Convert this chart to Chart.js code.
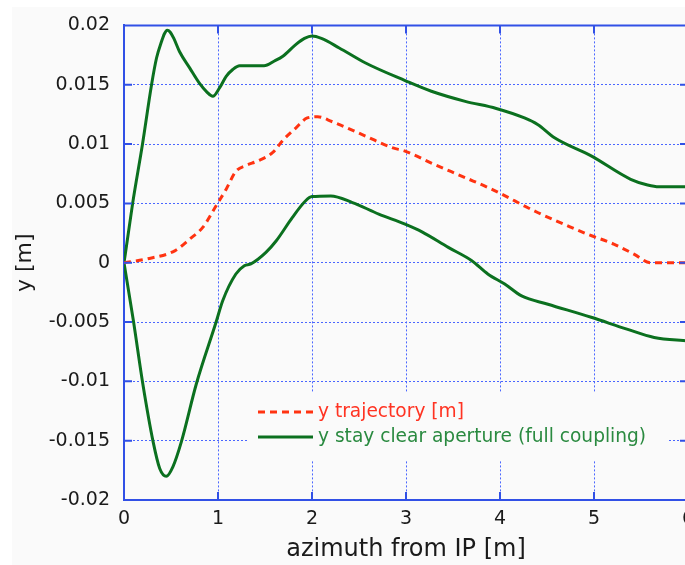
<!DOCTYPE html>
<html>
<head>
<meta charset="utf-8">
<title>y trajectory and stay clear aperture</title>
<script src="https://cdn.jsdelivr.net/npm/chart.js@4/dist/chart.umd.min.js"></script>
<style>
  html, body { margin: 0; padding: 0; background: #fff; overflow: hidden; }
  #wrap { width: 700px; height: 565px; }
</style>
</head>
<body>
<div id="wrap"><canvas id="apertureChart" width="700" height="565"></canvas></div>
<script>
// azimuth from IP [m] -> y trajectory [m]
var trajX = [0, 0.27, 0.54, 0.70, 0.84, 0.98, 1.087, 1.19, 1.30, 1.42, 1.58, 1.70, 1.83, 1.95, 2.06, 2.21, 2.57, 2.85, 2.99, 3.27, 3.63, 3.91, 4.40, 4.68, 4.93, 5.21, 5.43, 5.60, 6.0];
var trajY = [0, 0.00036, 0.001, 0.002, 0.003, 0.0048, 0.0062, 0.0077, 0.0082, 0.00857, 0.00927, 0.0104, 0.01137, 0.0122, 0.0123, 0.0119, 0.01067, 0.0097, 0.0094, 0.0084, 0.00717, 0.0062, 0.00423, 0.00325, 0.0024, 0.00157, 0.0007, 0.0, 0.0];

// stay clear aperture, upper edge
var upperX = [0, 0.014, 0.092, 0.197, 0.293, 0.346, 0.40, 0.43, 0.46, 0.49, 0.53, 0.59, 0.70, 0.80, 0.88, 0.945, 1.016, 1.087, 1.157, 1.23, 1.28, 1.49, 1.60, 1.69, 1.83, 1.92, 2.0, 2.1, 2.29, 2.57, 2.99, 3.27, 3.63, 3.96, 4.26, 4.40, 4.58, 4.97, 5.39, 5.57, 5.69, 6.0];
var upperY = [0, 0.00073, 0.005, 0.01, 0.015, 0.01725, 0.01866, 0.0193, 0.0196, 0.01945, 0.0189, 0.0178, 0.0164, 0.01515, 0.0144, 0.01403, 0.01473, 0.0157, 0.01628, 0.0166, 0.0166, 0.0166, 0.0170, 0.0174, 0.0184, 0.0189, 0.0191, 0.0189, 0.0181, 0.01683, 0.01535, 0.01445, 0.0136, 0.0130, 0.0122, 0.01165, 0.01053, 0.0090, 0.00703, 0.00655, 0.0064, 0.0064];

// stay clear aperture, lower edge
var lowerX = [0, 0.1, 0.2, 0.31, 0.38, 0.45, 0.52, 0.61, 0.77, 0.98, 1.05, 1.19, 1.28, 1.35, 1.51, 1.62, 1.79, 1.93, 2.0, 2.2, 2.43, 2.71, 2.99, 3.17, 3.45, 3.70, 3.87, 4.05, 4.23, 4.51, 4.97, 5.35, 5.64, 6.0];
var lowerY = [0, -0.0049, -0.0102, -0.0151, -0.01734, -0.0180, -0.0172, -0.0151, -0.0102, -0.0050, -0.0032, -0.00095, -0.00025, -0.0001, 0.00087, 0.00185, 0.0038, 0.0052, 0.00557, 0.00563, 0.00507, 0.0041, 0.00325, 0.0026, 0.00129, 0.00017, -0.00095, -0.0018, -0.0028, -0.0035, -0.0046, -0.0056, -0.0063, -0.0066];

var trajLabel = 'y trajectory [m]';
var apertureLabel = 'y stay clear aperture (full coupling)';

var RED = '#ff3311';
var GREEN = '#0b701f';
var AXIS = '#3150e6';
var GRID = '#4a66ff';
var FONT = '"DejaVu Sans", sans-serif';

function pts(xs, ys) {
    return xs.map(function (x, i) { return { x: x, y: ys[i] }; });
}

// фон сторінки і області графіка
var backdrop = {
    id: 'backdrop',
    beforeDraw: function (chart) {
        var ctx = chart.ctx;
        ctx.save();
        ctx.fillStyle = '#ffffff';
        ctx.fillRect(0, 0, chart.width, chart.height);
        ctx.fillStyle = '#fafafa';
        ctx.fillRect(12, 7, chart.width - 12, chart.height - 7);
        ctx.restore();
    }
};

// рамка зверху/справа і внутрішні риски на всіх чотирьох сторонах
var frame = {
    id: 'frame',
    afterDatasetsDraw: function (chart) {
        var ctx = chart.ctx, a = chart.chartArea;
        var sx = chart.scales.x, sy = chart.scales.y;
        var len = 8;
        ctx.save();
        ctx.strokeStyle = AXIS;
        ctx.lineWidth = 2;
        ctx.beginPath();
        ctx.moveTo(a.left, a.top); ctx.lineTo(a.right, a.top);
        ctx.moveTo(a.right, a.top); ctx.lineTo(a.right, a.bottom);
        sx.ticks.forEach(function (t) {
            var px = sx.getPixelForValue(t.value);
            ctx.moveTo(px, a.bottom); ctx.lineTo(px, a.bottom - len);
            ctx.moveTo(px, a.top); ctx.lineTo(px, a.top + len);
        });
        sy.ticks.forEach(function (t) {
            var py = sy.getPixelForValue(t.value);
            ctx.moveTo(a.left, py); ctx.lineTo(a.left + len, py);
            ctx.moveTo(a.right, py); ctx.lineTo(a.right - len, py);
        });
        ctx.stroke();
        ctx.restore();
    }
};

// легенда всередині області графіка
var insideLegend = {
    id: 'insideLegend',
    beforeDatasetsDraw: function (chart) {
        var ctx = chart.ctx, a = chart.chartArea;
        ctx.save();
        ctx.fillStyle = '#fafafa';
        ctx.fillRect(a.left + 124, 393, 419, 67);
        ctx.restore();
    },
    afterDatasetsDraw: function (chart) {
        var ctx = chart.ctx, a = chart.chartArea;
        var items = chart.data.datasets.filter(function (d) { return d.label; });
        var x0 = a.left + 134, x1 = a.left + 189;
        ctx.save();
        ctx.font = '18.6px ' + FONT;
        ctx.textBaseline = 'middle';
        ctx.textAlign = 'left';
        items.forEach(function (d, i) {
            var y = 412 + i * 25;
            ctx.beginPath();
            ctx.strokeStyle = d.borderColor;
            ctx.lineWidth = 3;
            ctx.setLineDash(d.borderDash || []);
            ctx.moveTo(x0, y); ctx.lineTo(x1, y);
            ctx.stroke();
            ctx.setLineDash([]);
            ctx.fillStyle = d.legendTextColor;
            ctx.fillText(d.label, x1 + 5, y);
        });
        ctx.restore();
    }
};

new Chart(document.getElementById('apertureChart'), {
    type: 'line',
    data: {
        datasets: [{
            label: trajLabel,
            data: pts(trajX, trajY),
            borderColor: RED,
            legendTextColor: '#ff3322',
            borderWidth: 3,
            borderDash: [7, 5],
            pointRadius: 0,
            cubicInterpolationMode: 'monotone',
            fill: false
        }, {
            label: apertureLabel,
            data: pts(upperX, upperY),
            borderColor: GREEN,
            legendTextColor: '#2a8a40',
            borderWidth: 3,
            pointRadius: 0,
            cubicInterpolationMode: 'monotone',
            fill: false
        }, {
            label: '',
            data: pts(lowerX, lowerY),
            borderColor: GREEN,
            borderWidth: 3,
            pointRadius: 0,
            cubicInterpolationMode: 'monotone',
            fill: false
        }]
    },
    options: {
        responsive: false,
        animation: false,
        devicePixelRatio: 1,
        layout: { padding: { left: 0, top: 24, right: 12, bottom: 0 } },
        plugins: {
            legend: { display: false },
            tooltip: { enabled: false }
        },
        scales: {
            x: {
                type: 'linear',
                min: 0,
                max: 6,
                afterFit: function (s) { s.height = 65; s.paddingLeft = 0; s.paddingRight = 0; },
                ticks: { stepSize: 1, padding: 8, color: '#1a1a1a', font: { family: FONT, size: 19 } },
                grid: { color: GRID, lineWidth: 1, drawTicks: false },
                border: { display: true, color: AXIS, width: 2, dash: [2, 2] },
                title: {
                    display: true,
                    text: 'azimuth from IP [m]',
                    color: '#1a1a1a',
                    font: { family: FONT, size: 24, lineHeight: 1.2 },
                    padding: { top: 0, bottom: 1 }
                }
            },
            y: {
                type: 'linear',
                min: -0.02,
                max: 0.02,
                afterFit: function (s) { s.width = 124; },
                ticks: {
                    stepSize: 0.005,
                    padding: 14,
                    color: '#1a1a1a',
                    font: { family: FONT, size: 19 },
                    callback: function (v) { return String(+v.toFixed(3)); }
                },
                grid: { color: GRID, lineWidth: 1, drawTicks: false },
                border: { display: true, color: AXIS, width: 2, dash: [2, 2] },
                title: {
                    display: true,
                    text: 'y [m]',
                    color: '#1a1a1a',
                    font: { family: FONT, size: 22, lineHeight: 1.2 },
                    padding: { top: 12, bottom: 0 }
                }
            }
        }
    },
    plugins: [backdrop, insideLegend, frame]
});
</script>
</body>
</html>
